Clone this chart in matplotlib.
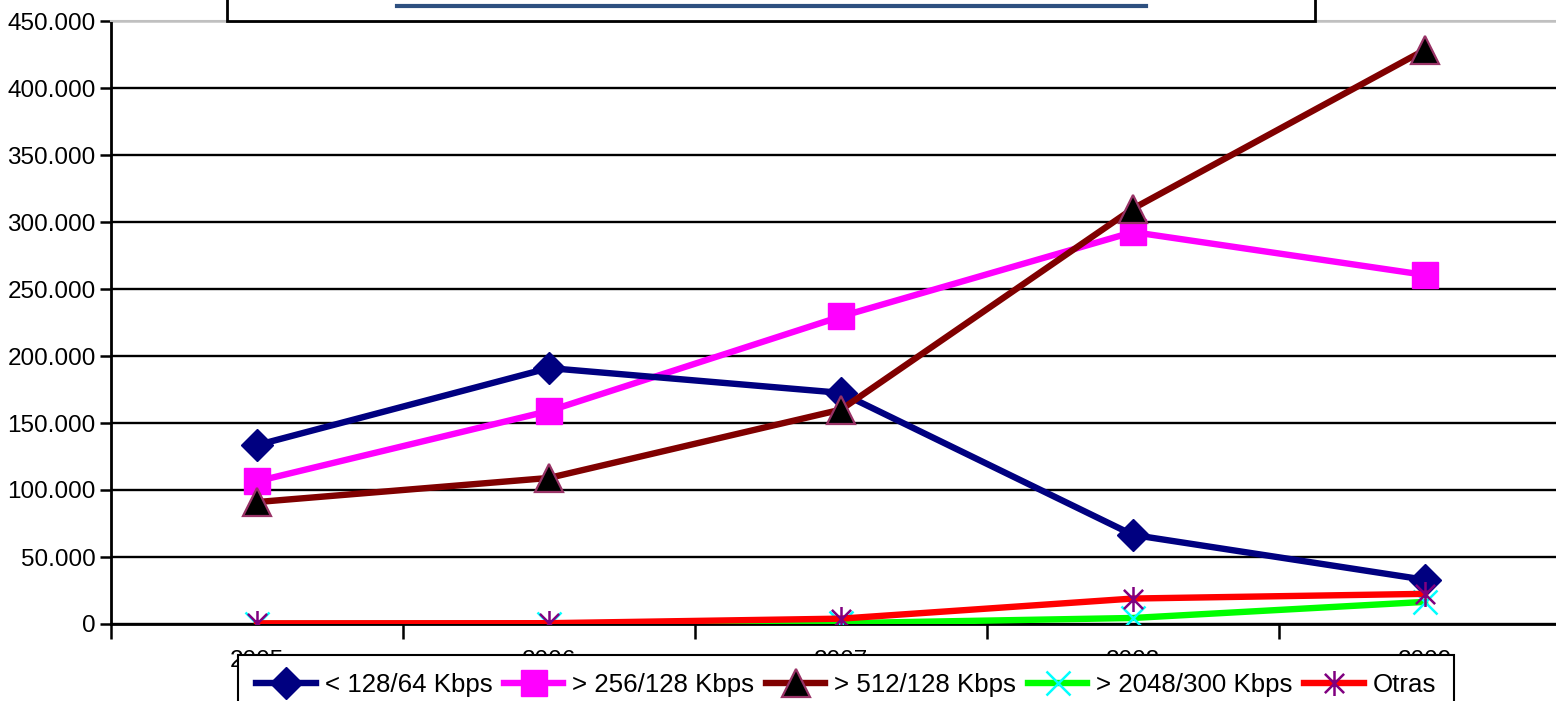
import numpy as np
import matplotlib
matplotlib.use('Agg')
import matplotlib.pyplot as plt
from matplotlib.path import Path
from matplotlib.patches import Rectangle
from matplotlib.lines import Line2D
from matplotlib.ticker import FuncFormatter

plt.rcParams['font.family'] = ['Liberation Sans', 'DejaVu Sans']

years = ['2005', '2006', '2007', '2008', '2009']
labels = ['< 128/64 Kbps', '> 256/128 Kbps', '> 512/128 Kbps', '> 2048/300 Kbps', 'Otras']
s_128 = [133500, 191000, 172500, 66500, 33000]
s_256 = [106500, 159000, 229500, 292500, 260500]
s_512 = [91000, 109000, 160000, 310000, 428500]
s_2048 = [200, 300, 600, 4500, 16500]
s_otras = [500, 600, 4000, 19000, 22500]

W, H = 1556, 701
fig = plt.figure(figsize=(W / 100, H / 100), dpi=100)
# axes runs past the right edge, like the cropped original
ax = fig.add_axes([111 / W, (H - 624) / H, 1460 / W, 603 / H])

# asterisk marker: x plus vertical bar
star = Path([(-1, -1), (1, 1), (-1, 1), (1, -1), (0, -1.3), (0, 1.3)],
            [Path.MOVETO, Path.LINETO, Path.MOVETO, Path.LINETO, Path.MOVETO, Path.LINETO])

x = np.arange(len(years))
lw = 4.6
ax.plot(x, s_128, color='#000080', lw=lw, marker='D', ms=16, mfc='#000080', mec='#000080', label=labels[0], zorder=5)
ax.plot(x, s_256, color='#FF00FF', lw=lw, marker='s', ms=19, mfc='#FF00FF', mec='#FF00FF', label=labels[1], zorder=4)
ax.plot(x, s_512, color='#800000', lw=lw, marker='^', ms=20, mfc='black', mec='#993366', mew=1.6, label=labels[2], zorder=6)
ax.plot(x, s_2048, color='#00FF00', lw=lw, marker='x', ms=17, mec='#00FFFF', mew=1.8, label=labels[3], zorder=7)
ax.plot(x, s_otras, color='#FF0000', lw=lw, marker=star, ms=18, mec='#800080', mew=1.8, label=labels[4], zorder=8)

ax.set_xlim(-0.5, 4.5)
ax.set_ylim(0, 450000)
ax.set_yticks(np.arange(0, 450001, 50000))
ax.yaxis.set_major_formatter(FuncFormatter(lambda v, p: '{:,.0f}'.format(v).replace(',', '.')))
ax.grid(axis='y', color='black', lw=1.7)
ax.set_axisbelow(True)

ax.set_xticks(x)
ax.set_xticklabels(years)
ax.set_xticks(np.arange(-0.5, 5, 1), minor=True)
ax.tick_params(axis='x', which='major', length=0, pad=19, labelsize=17.5)
ax.tick_params(axis='x', which='minor', length=11, width=1.8, direction='out')
ax.tick_params(axis='y', length=8, width=1.8, labelsize=17.5, pad=3)

ax.spines['right'].set_visible(False)
ax.spines['top'].set_color('#c0c0c0')
ax.spines['top'].set_linewidth(1.5)
ax.spines['left'].set_linewidth(2)
ax.spines['bottom'].set_linewidth(2)

# title box, cut off at the top of the picture
fig.patches.append(Rectangle((227 / W, 1 - 21 / H), (1315 - 227) / W, 60 / H,
                             transform=fig.transFigure, facecolor='white', edgecolor='black', lw=2, zorder=10))
fig.lines.append(Line2D([397 / W, 1146 / W], [1 - 6 / H, 1 - 6 / H], transform=fig.transFigure,
                        color='#2E5080', lw=3, zorder=11))

leg = fig.legend(loc='upper left', bbox_to_anchor=(238 / W, 1 - 655 / H), ncol=5, fontsize=18.6,
                 frameon=True, fancybox=False, edgecolor='black', framealpha=1,
                 handlelength=2.3, handletextpad=0.35, columnspacing=0.45, borderpad=0.7, borderaxespad=0)
leg.get_frame().set_linewidth(1.5)
leg.set_zorder(20)

fig.savefig('out.png', dpi=100)
